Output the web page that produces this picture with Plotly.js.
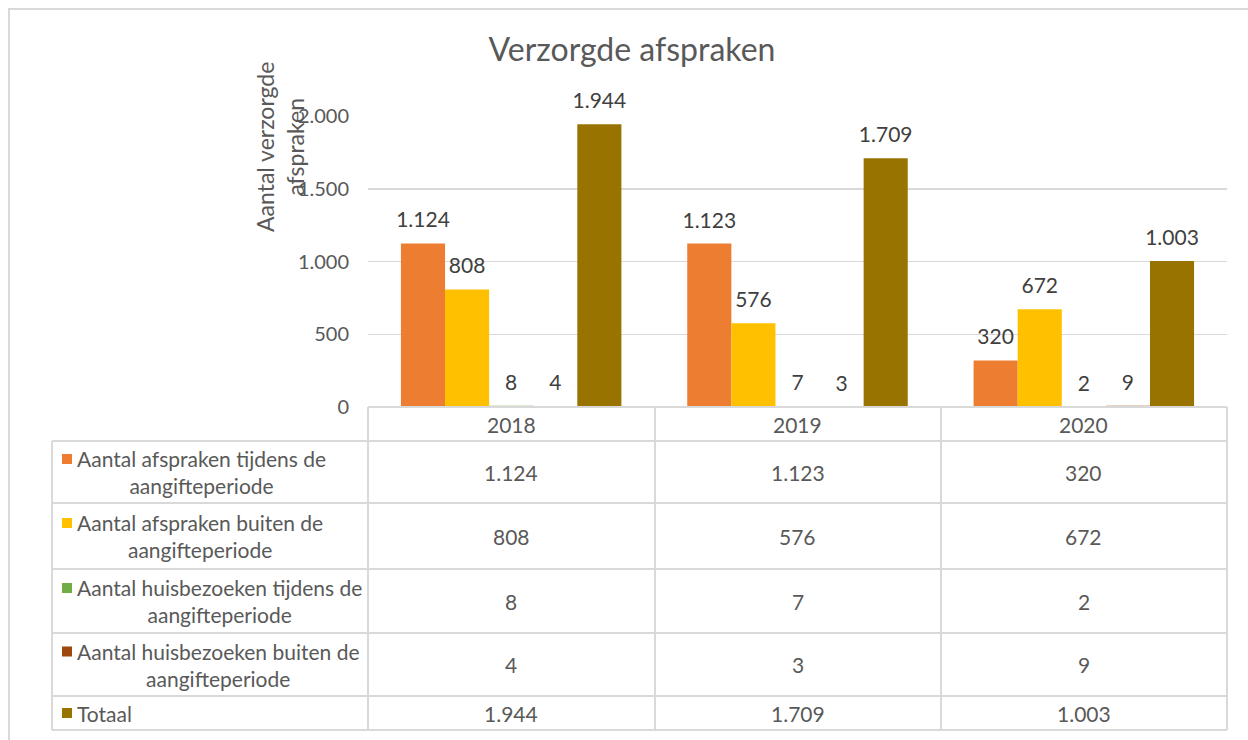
<!DOCTYPE html>
<html><head><meta charset="utf-8">
<script src="https://cdn.plot.ly/plotly-3.0.1.min.js"></script>
<style>html,body{margin:0;padding:0;background:#fff;overflow:hidden}</style>
</head><body><div id="chart" style="width:1248px;height:740px"></div>
<script>
// ---- data ----
const years = ['2018', '2019', '2020'];
const seriesNames = [
  'Aantal afspraken tijdens de aangifteperiode',
  'Aantal afspraken buiten de aangifteperiode',
  'Aantal huisbezoeken tijdens de aangifteperiode',
  'Aantal huisbezoeken buiten de aangifteperiode',
  'Totaal'
];
const legendLines = [
  ['Aantal afspraken tijdens de', 'aangifteperiode'],
  ['Aantal afspraken buiten de', 'aangifteperiode'],
  ['Aantal huisbezoeken tijdens de', 'aangifteperiode'],
  ['Aantal huisbezoeken buiten de', 'aangifteperiode'],
  ['Totaal']
];
const afsprakenTijdens = [1124, 1123, 320];
const afsprakenBuiten = [808, 576, 672];
const huisbezoekenTijdens = [8, 7, 2];
const huisbezoekenBuiten = [4, 3, 9];
const totaal = [1944, 1709, 1003];
const yTickVals = [0, 500, 1000, 1500, 2000];
const chartTitle = 'Verzorgde afspraken';
const yTitle = 'Aantal verzorgde<br>afspraken';

const allSeries = [afsprakenTijdens, afsprakenBuiten, huisbezoekenTijdens, huisbezoekenBuiten, totaal];
const colors = ['#ED7D31', '#FFC000', '#70AD47', '#9E480E', '#997300'];

// ---- layout helpers (pixel -> paper) ----
const W = 1248, H = 740;
const L = 368, R = 1227, T = 116, B = 407;
const px = x => (x - L) / (R - L);
const py = y => (B - y) / (B - T);
const fmt = v => String(v).replace(/\B(?=(\d{3})+(?!\d))/g, '.');

const FONT = 'Lato, "Open Sans", sans-serif';
const TXT = '#595959';
const GRID = '#d9d9d9';
const FS = 21;

const traces = allSeries.map((vals, i) => ({
  type: 'bar',
  name: seriesNames[i],
  x: years,
  y: vals,
  marker: { color: colors[i], line: { width: 0 } },
  text: vals.map(fmt),
  texttemplate: '<span style="font-size:' + FS + 'px">%{text}</span><br><span style="font-size:1px">.</span>',
  textposition: 'outside',
  textangle: 0,
  constraintext: 'none',
  cliponaxis: false,
  textfont: { family: FONT, size: 10, color: '#404040' },
  hoverinfo: 'skip',
  showlegend: false
}));

// table geometry (pixels)
const rowY = [407, 441, 503, 569, 633, 696, 730];
const colX = [52, 368, 655, 941, 1227];

const shapes = [];
const lineStyle = { color: GRID, width: 2 };
// outer frame
shapes.push({ type: 'rect', xref: 'paper', yref: 'paper', x0: px(9), x1: px(1262), y0: py(9), y1: py(760), line: { color: '#d9d9d9', width: 2 } });
// horizontal table lines
rowY.forEach((y, i) => {
  shapes.push({ type: 'line', xref: 'paper', yref: 'paper', x0: px(i === 0 ? colX[1] : colX[0]), x1: px(colX[4]), y0: py(y), y1: py(y), line: lineStyle });
});
// vertical table lines
colX.forEach((x, i) => {
  shapes.push({ type: 'line', xref: 'paper', yref: 'paper', x0: px(x), x1: px(x), y0: py(i === 0 ? rowY[1] : rowY[0]), y1: py(rowY[6]), line: lineStyle });
});

const annotations = [];
// year header
years.forEach((yr, j) => {
  annotations.push({ xref: 'x', yref: 'paper', x: j, y: py((rowY[0] + rowY[1]) / 2), text: yr, showarrow: false, font: { family: FONT, size: FS, color: TXT }, xanchor: 'center', yanchor: 'middle' });
});
// rows
allSeries.forEach((vals, i) => {
  const cy = (rowY[i + 1] + rowY[i + 2]) / 2;
  const lines = legendLines[i];
  const firstLineY = lines.length > 1 ? cy - 13 : cy;
  // key
  shapes.push({ type: 'rect', xref: 'paper', yref: 'paper', x0: px(62), x1: px(72), y0: py(firstLineY - 5), y1: py(firstLineY + 5), fillcolor: colors[i], line: { width: 0 } });
  annotations.push({ xref: 'paper', yref: 'paper', x: px(75), y: py(cy), text: lines.join('<br>'), align: 'center', showarrow: false, font: { family: FONT, size: FS, color: TXT }, xanchor: 'left', yanchor: 'middle' });
  vals.forEach((v, j) => {
    annotations.push({ xref: 'x', yref: 'paper', x: j, y: py(cy), text: fmt(v), showarrow: false, font: { family: FONT, size: FS, color: TXT }, xanchor: 'center', yanchor: 'middle' });
  });
});
// y title
annotations.push({ xref: 'paper', yref: 'paper', x: px(280), y: py(147), text: yTitle, textangle: -90, showarrow: false, font: { family: FONT, size: 23, color: TXT }, xanchor: 'center', yanchor: 'middle' });

const layout = {
  width: W, height: H,
  margin: { l: L, r: W - R, t: T, b: H - B, pad: 0 },
  paper_bgcolor: '#fff', plot_bgcolor: '#fff',
  separators: ',.',
  barmode: 'group', bargap: 0.23, bargroupgap: 0,
  font: { family: FONT, color: TXT },
  title: { text: chartTitle, font: { family: FONT, size: 32, color: TXT }, xref: 'container', yref: 'container', x: 632 / W, y: 1 - 50 / H, xanchor: 'center', yanchor: 'middle' },
  xaxis: { type: 'category', range: [-0.5, 2.5], autorange: false, showticklabels: false, showgrid: false, zeroline: false, showline: false, ticks: '', fixedrange: true },
  yaxis: { range: [0, 2000], autorange: false, tickvals: yTickVals, tickformat: ',', showgrid: true, gridcolor: GRID, gridwidth: 1.5, zeroline: false, showline: false, ticks: '', ticklabelstandoff: 18, tickfont: { family: FONT, size: 20, color: TXT }, fixedrange: true },
  shapes: shapes,
  annotations: annotations,
  showlegend: false
};

Plotly.newPlot('chart', traces, layout, { displayModeBar: false, staticPlot: true });
</script></body></html>
